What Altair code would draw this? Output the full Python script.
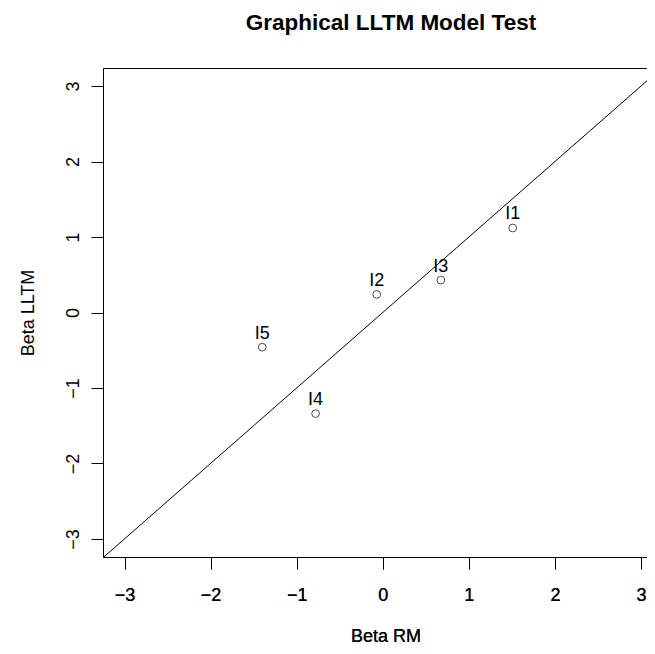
import altair as alt
import pandas as pd

items = ["I1", "I2", "I3", "I4", "I5"]
beta_rm = [1.51, -0.07, 0.675, -0.78, -1.40]
beta_lltm = [1.12, 0.24, 0.43, -1.34, -0.46]
tick_values = [-3, -2, -1, 0, 1, 2, 3]
x_domain = [-3.25, 3.07]
y_domain = [-3.24, 3.24]
diag = [-4, 4]

FONT = "Liberation Sans"

pts = pd.DataFrame({"x": beta_rm, "y": beta_lltm, "item": items})
line_df = pd.DataFrame({"x": diag, "y": diag})

xs = alt.Scale(domain=x_domain, nice=False, zero=False)
ys = alt.Scale(domain=y_domain, nice=False, zero=False)

x_axis = alt.Axis(
    values=tick_values, tickSize=12, tickColor="black", domainColor="black",
    labelPadding=31.5, labelBaseline="alphabetic", labelFontSize=18, labelFont=FONT,
    labelColor="black", labelFlush=False, labelOverlap=False, grid=False,
    title="Beta RM", titleFont=FONT, titleFontSize=18, titleFontWeight="normal",
    titleColor="black", titleX=282.5, titleY=84, titleAlign="center",
    titleBaseline="alphabetic",
)
y_axis = alt.Axis(
    values=tick_values, tickSize=12, tickColor="black", domainColor="black",
    labelPadding=12.7, labelAngle=270, labelAlign="center", labelBaseline="alphabetic",
    labelFontSize=18, labelFont=FONT, labelColor="black", labelFlush=False,
    labelOverlap=False, grid=False,
    title="Beta LLTM", titleFont=FONT, titleFontSize=18, titleFontWeight="normal",
    titleColor="black", titleAngle=270, titleX=-70, titleY=244.5,
    titleAlign="center", titleBaseline="alphabetic",
)
top_axis = alt.Axis(orient="top", labels=False, ticks=False, title=None,
                    domainColor="black", grid=False)

line = alt.Chart(line_df).mark_line(color="black", strokeWidth=1, clip=True).encode(
    x=alt.X("x:Q", scale=xs, axis=top_axis),
    y=alt.Y("y:Q", scale=ys, axis=y_axis),
)

points = alt.Chart(pts).mark_point(shape="circle", size=60, filled=False,
                                   color="black", strokeWidth=1).encode(
    x=alt.X("x:Q", scale=xs, axis=x_axis),
    y=alt.Y("y:Q", scale=ys, axis=y_axis),
)

labels = alt.Chart(pts).mark_text(font=FONT, fontSize=18, color="black",
                                  baseline="alphabetic", align="center", dy=-8.5).encode(
    x=alt.X("x:Q", scale=xs, axis=x_axis),
    y=alt.Y("y:Q", scale=ys, axis=y_axis),
    text="item:N",
)

chart = alt.layer(line, points, labels).resolve_axis(x="independent").properties(
    width=544, height=489,
    autosize=alt.AutoSizeParams(type="none"),
    padding={"left": 95, "top": 60, "right": 0, "bottom": 87},
    title=alt.TitleParams("Graphical LLTM Model Test", font=FONT, fontSize=22.5,
                          fontWeight="bold", color="black", anchor="middle",
                          dx=16, offset=16, baseline="alphabetic"),
).configure_view(stroke=None).configure(background="white")

chart.save("out.html", embed_options={"renderer": "svg", "actions": False})
